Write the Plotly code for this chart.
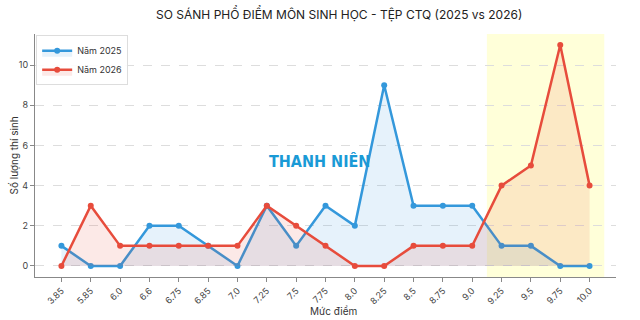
import plotly.graph_objects as go

categories = ["3.85", "5.85", "6.0", "6.6", "6.75", "6.85", "7.0", "7.25", "7.5", "7.75",
              "8.0", "8.25", "8.5", "8.75", "9.0", "9.25", "9.5", "9.75", "10.0"]
y2025 = [1, 0, 0, 2, 2, 1, 0, 3, 1, 3, 2, 9, 3, 3, 3, 1, 1, 0, 0]
y2026 = [0, 3, 1, 1, 1, 1, 1, 3, 2, 1, 0, 0, 1, 1, 1, 4, 5, 11, 4]
yticks = [0, 2, 4, 6, 8, 10]

xs = list(range(len(categories)))
blue = "#3498db"
red = "#e74c3c"
font = "Inter, Roboto, sans-serif"

fig = go.Figure()
fig.add_trace(go.Scatter(x=xs, y=y2025, mode="lines+markers", name="Năm 2025",
                         line=dict(color=blue, width=2.5), marker=dict(size=6, color=blue),
                         fill="tozeroy", fillcolor="rgba(52,152,219,0.12)"))
fig.add_trace(go.Scatter(x=xs, y=y2026, mode="lines+markers", name="Năm 2026",
                         line=dict(color=red, width=2.5), marker=dict(size=6, color=red),
                         fill="tozeroy", fillcolor="rgba(231,76,60,0.12)"))

fig.add_shape(type="rect", xref="x", yref="paper", x0=14.5, x1=18.5, y0=0, y1=1,
              fillcolor="rgba(255,255,170,0.45)", line=dict(width=0), layer="below")

fig.add_annotation(text="<b>THANH NIÊN</b>", x=8.8, y=5.2, xref="x", yref="y",
                   showarrow=False, font=dict(family="DejaVu Sans Condensed, Liberation Sans Narrow, sans-serif",
                                              size=16, color="#1a9ad6"))

# axis titles as annotations for precise placement
fig.add_annotation(text="Mức điểm", x=0.513, y=0, xref="paper", yref="paper",
                   xanchor="center", yanchor="middle", yshift=-34, showarrow=False,
                   font=dict(family=font, size=10, color="#333333"))
fig.add_annotation(text="Số lượng thí sinh", x=0, y=0.5, xref="paper", yref="paper",
                   xanchor="center", yanchor="middle", xshift=-22, textangle=-90, showarrow=False,
                   font=dict(family=font, size=10, color="#333333"))

fig.update_layout(
    width=640, height=320,
    margin=dict(l=35, r=24, t=34, b=43),
    paper_bgcolor="white", plot_bgcolor="white",
    font=dict(family=font, size=10, color="#333333"),
    title=dict(text="SO SÁNH PHỔ ĐIỂM MÔN SINH HỌC - TỆP CTQ (2025 vs 2026)",
               x=0.53, xanchor="center", y=0.955, yanchor="middle",
               font=dict(family=font, size=12, color="#222222")),
    legend=dict(x=0.002, y=0.995, xanchor="left", yanchor="top",
                bgcolor="rgba(255,255,255,0.9)", bordercolor="#dddddd", borderwidth=1,
                font=dict(size=9, color="#333333"), itemwidth=30, tracegroupgap=0),
    showlegend=True,
)
fig.update_xaxes(range=[-0.9, 18.9], tickmode="array", tickvals=xs, ticktext=categories,
                 tickangle=-45, showline=True, linecolor="#888888", linewidth=1.2,
                 ticks="outside", ticklen=4, tickcolor="#888888", showgrid=False, zeroline=False,
                 tickfont=dict(size=9, color="#444444"), automargin=False)
fig.update_yaxes(range=[-0.55, 11.55], tickmode="array", tickvals=yticks,
                 showline=True, linecolor="#888888", linewidth=1.2,
                 ticks="outside", ticklen=4, tickcolor="#888888",
                 showgrid=True, gridcolor="#dddddd", griddash="dash", gridwidth=0.8, zeroline=False,
                 tickfont=dict(size=9, color="#444444"), automargin=False)

fig.write_html("out.html")
